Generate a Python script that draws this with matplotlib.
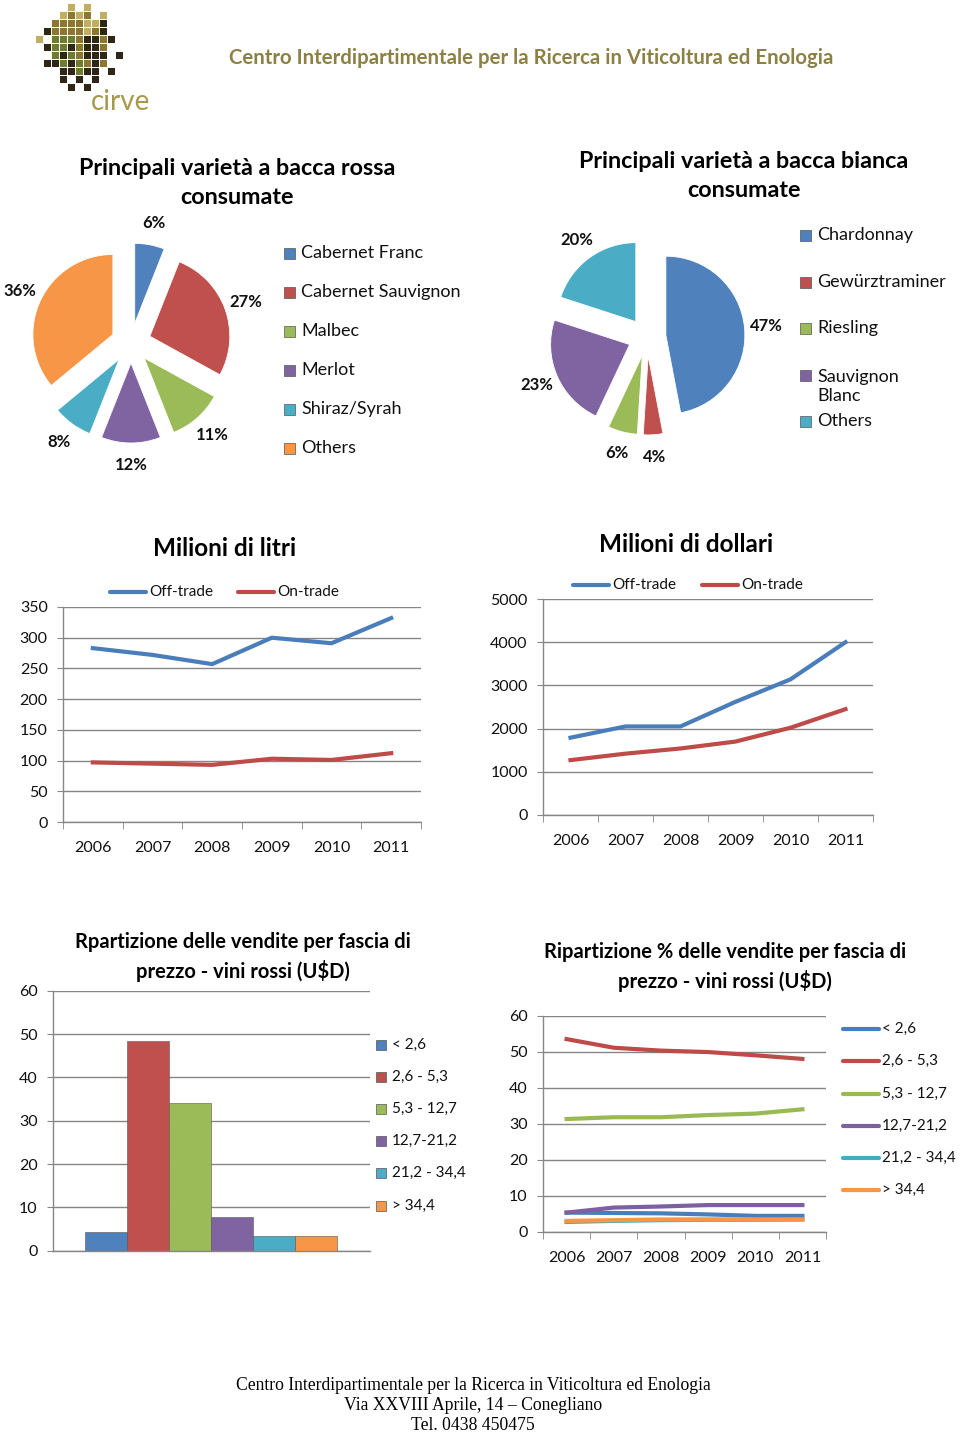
import matplotlib
matplotlib.use("Agg")
import matplotlib.pyplot as plt
from matplotlib.patches import Rectangle
from matplotlib.lines import Line2D
import numpy as np

# ---------------- data ----------------
red_varieties = ["Cabernet Franc", "Cabernet Sauvignon", "Malbec", "Merlot", "Shiraz/Syrah", "Others"]
red_shares = [6, 27, 11, 12, 8, 36]

white_varieties = ["Chardonnay", "Gewürztraminer", "Riesling", "Sauvignon\nBlanc", "Others"]
white_shares = [47, 4, 6, 23, 20]

years = ["2006", "2007", "2008", "2009", "2010", "2011"]
litri_off = [283, 272, 257, 300, 291, 332]
litri_on = [97, 95, 93, 103, 101, 112]
dollari_off = [1790, 2050, 2050, 2620, 3140, 4000]
dollari_on = [1270, 1420, 1540, 1700, 2020, 2450]
trade_labels = ["Off-trade", "On-trade"]

price_bands = ["< 2,6", "2,6 - 5,3", "5,3 - 12,7", "12,7-21,2", "21,2 - 34,4", "> 34,4"]
band_sales = [4.3, 48.5, 34.1, 7.8, 3.4, 3.4]

share_lt26 = [5.3, 5.2, 5.1, 4.8, 4.4, 4.4]
share_26_53 = [53.5, 51.1, 50.3, 49.9, 49.0, 48.0]
share_53_127 = [31.3, 31.8, 31.8, 32.4, 32.8, 34.0]
share_127_212 = [5.3, 6.7, 7.0, 7.4, 7.4, 7.4]
share_212_344 = [2.7, 3.0, 3.2, 3.3, 3.3, 3.4]
share_gt344 = [3.0, 3.2, 3.4, 3.4, 3.4, 3.4]

# ---------------- style ----------------
W, H = 960, 1434
FONT = ["Lato", "DejaVu Sans"]
plt.rcParams["font.family"] = FONT
EXCEL = ["#4f81bd", "#c0504d", "#9bbb59", "#8064a2", "#4bacc6", "#f79646"]
LINE_COLS = ["#4a7ebb", "#be4b48", "#98b954", "#7d60a0", "#46aac5", "#f79646"]
GRID = "#868686"
TICK_FS = 11.5

fig = plt.figure(figsize=(W / 100, H / 100), dpi=100)


def rect(x0, y0, x1, y1):
    return [x0 / W, 1 - y1 / H, (x1 - x0) / W, (y1 - y0) / H]


def ftext(x, y, s, **kw):
    kw.setdefault("ha", "center")
    kw.setdefault("va", "center")
    return fig.text(x / W, 1 - y / H, s, **kw)


def legend_squares(labels, colors, xm, ys_marker, ys_text, size=11, fs=13):
    for lab, col, ym, yt in zip(labels, colors, ys_marker, ys_text):
        fig.add_artist(Rectangle((xm / W, 1 - (ym + size / 2) / H), size / W, size / H,
                                 transform=fig.transFigure, facecolor=col,
                                 edgecolor="#555555", linewidth=0.5))
        ftext(xm + size + 6, yt, lab, ha="left", fontsize=fs, color="#111111",
              linespacing=1.27)


def legend_lines(labels, colors, pos, length=36, fs=11):
    for lab, col, (x, y) in zip(labels, colors, pos):
        fig.add_artist(Line2D([x / W, (x + length) / W], [1 - y / H, 1 - y / H],
                              transform=fig.transFigure, color=col, lw=3,
                              solid_capstyle="round"))
        ftext(x + length + 3, y, lab, ha="left", fontsize=fs, color="#111111")


# ---------------- header ----------------
logo_mask = [
    "....l.l....",
    "...lolo.l..",
    "..oooolld..",
    ".doooolod..",
    "l.gggoddod.",
    ".dggdoddo..",
    "..gdgoddd.d",
    ".ddgdgodo..",
    "...ddgdd.d.",
    "...d.d.d...",
    "....d.d....",
]
logo_cols = {"l": "#c2ae62", "o": "#8d7631", "g": "#6f7a32", "d": "#2e2617"}
cell = 8.0
for r, row in enumerate(logo_mask):
    for c, ch in enumerate(row):
        if ch in logo_cols:
            x0 = 36 + c * cell
            y0 = 4 + r * cell
            fig.add_artist(Rectangle((x0 / W, 1 - (y0 + cell - 1) / H), (cell - 1) / W, (cell - 1) / H,
                                     transform=fig.transFigure, facecolor=logo_cols[ch],
                                     edgecolor="none"))
ftext(121, 102, "cirve", fontsize=20, color="#a8994a")
ftext(531, 58, "Centro Interdipartimentale per la Ricerca in Viticoltura ed Enologia",
      fontsize=14.7, color="#8c8045", fontweight="bold")

# ---------------- pies ----------------
def draw_pie(cx, cy, r, values, colors, explode):
    half = 1.6 * r
    ax = fig.add_axes(rect(cx - half, cy - half, cx + half, cy + half))
    ax.pie(values, colors=colors, explode=[explode] * len(values), startangle=90,
           counterclock=False, autopct=lambda p: f"{p:.0f}%", pctdistance=1.28,
           textprops=dict(fontsize=12, fontweight="bold", color="#111111"),
           wedgeprops=dict(edgecolor="#ffffff", linewidth=0.6))
    ax.set_xlim(-1.6, 1.6)
    ax.set_ylim(-1.6, 1.6)
    ax.set_aspect("equal")
    ax.axis("off")
    return ax


draw_pie(131, 343, 80, red_shares, EXCEL, 0.25)
ftext(237, 183, "Principali varietà a bacca rossa\nconsumate", fontsize=16.8, fontweight="bold",
      linespacing=1.45)
legend_squares(red_varieties, EXCEL, 284, [253, 292, 331, 370, 409, 448],
               [253, 292, 331, 370, 409, 448])

white_cols = [EXCEL[0], EXCEL[1], EXCEL[2], EXCEL[3], EXCEL[4]]
draw_pie(647, 337, 79, white_shares, white_cols, 0.24)
ftext(744, 176, "Principali varietà a bacca bianca\nconsumate", fontsize=16.8, fontweight="bold",
      linespacing=1.45)
legend_squares(white_varieties, white_cols, 800, [235, 282, 328, 375, 421],
               [235, 282, 328, 386.5, 421])

# ---------------- line charts ----------------
def style_axes(ax, xcats=True):
    for s in ["top", "right"]:
        ax.spines[s].set_visible(False)
    for s in ["left", "bottom"]:
        ax.spines[s].set_color(GRID)
        ax.spines[s].set_linewidth(1.0)
    ax.yaxis.grid(True, color=GRID, linewidth=1.0)
    ax.set_axisbelow(True)
    ax.tick_params(axis="y", length=4, color=GRID, labelsize=TICK_FS, pad=7, labelcolor="#111111")
    if xcats:
        ax.set_xlim(-0.5, len(years) - 0.5)
        ax.set_xticks(range(len(years)))
        ax.set_xticklabels(years)
        ax.set_xticks(np.arange(-0.5, len(years)), minor=True)
        ax.tick_params(axis="x", which="major", length=0, labelsize=TICK_FS, pad=14, labelcolor="#111111")
        ax.tick_params(axis="x", which="minor", length=5, color=GRID)


ax1 = fig.add_axes(rect(63, 607, 421, 822))
x = np.arange(len(years))
ax1.plot(x, litri_off, color=LINE_COLS[0], lw=3)
ax1.plot(x, litri_on, color=LINE_COLS[1], lw=3)
ax1.set_ylim(0, 350)
ax1.set_yticks(range(0, 351, 50))
style_axes(ax1)
ftext(225, 548, "Milioni di litri", fontsize=17.5, fontweight="bold")
legend_lines(trade_labels, LINE_COLS[:2], [(110, 592), (238, 592)])

ax2 = fig.add_axes(rect(543, 599, 873, 815))
ax2.plot(x, dollari_off, color=LINE_COLS[0], lw=3)
ax2.plot(x, dollari_on, color=LINE_COLS[1], lw=3)
ax2.set_ylim(0, 5000)
ax2.set_yticks(range(0, 5001, 1000))
style_axes(ax2)
ftext(686, 544, "Milioni di dollari", fontsize=17.5, fontweight="bold")
legend_lines(trade_labels, LINE_COLS[:2], [(573, 585), (702, 585)])

# ---------------- bar chart ----------------
ax3 = fig.add_axes(rect(53, 990.7, 370, 1250.7))
bw = 42 / 317
for i, (band, val) in enumerate(zip(price_bands, band_sales)):
    ax3.bar((i - (len(band_sales) - 1) / 2) * bw, val, width=bw, color=EXCEL[i],
            edgecolor="#555555", linewidth=0.4, label=band)
ax3.set_xlim(-0.5, 0.5)
ax3.set_ylim(0, 60)
ax3.set_yticks(range(0, 61, 10))
ax3.set_xticks([])
style_axes(ax3, xcats=False)
ftext(243, 957, "Rpartizione delle vendite per fascia di\nprezzo - vini rossi (U$D)",
      fontsize=14.5, fontweight="bold", linespacing=1.4)
leg_y = [1045, 1077, 1109, 1141, 1173, 1206]
legend_squares(price_bands, EXCEL, 376, leg_y, leg_y, size=10, fs=11)

# ---------------- percent line chart ----------------
ax4 = fig.add_axes(rect(543, 1015.7, 826, 1231.7))
share_series = [share_lt26, share_26_53, share_53_127, share_127_212, share_212_344, share_gt344]
for i, s in enumerate(share_series):
    ax4.plot(x, s, color=LINE_COLS[i], lw=3)
ax4.set_ylim(0, 60)
ax4.set_yticks(range(0, 61, 10))
style_axes(ax4)
ftext(725, 967, "Ripartizione % delle vendite per fascia di\nprezzo - vini rossi (U$D)",
      fontsize=14.5, fontweight="bold", linespacing=1.4)
leg4_y = [1029, 1061, 1094, 1126, 1158, 1190]
legend_lines(price_bands, LINE_COLS, [(843, y) for y in leg4_y])

# ---------------- footer ----------------
serif = ["Liberation Serif", "DejaVu Serif"]
ftext(473, 1385, "Centro Interdipartimentale per la Ricerca in Viticoltura ed Enologia",
      fontsize=12.7, family=serif)
ftext(473, 1405, "Via XXVIII Aprile, 14 – Conegliano", fontsize=12.7, family=serif)
ftext(473, 1425, "Tel. 0438 450475", fontsize=12.7, family=serif)

fig.savefig("out.png", dpi=100)
